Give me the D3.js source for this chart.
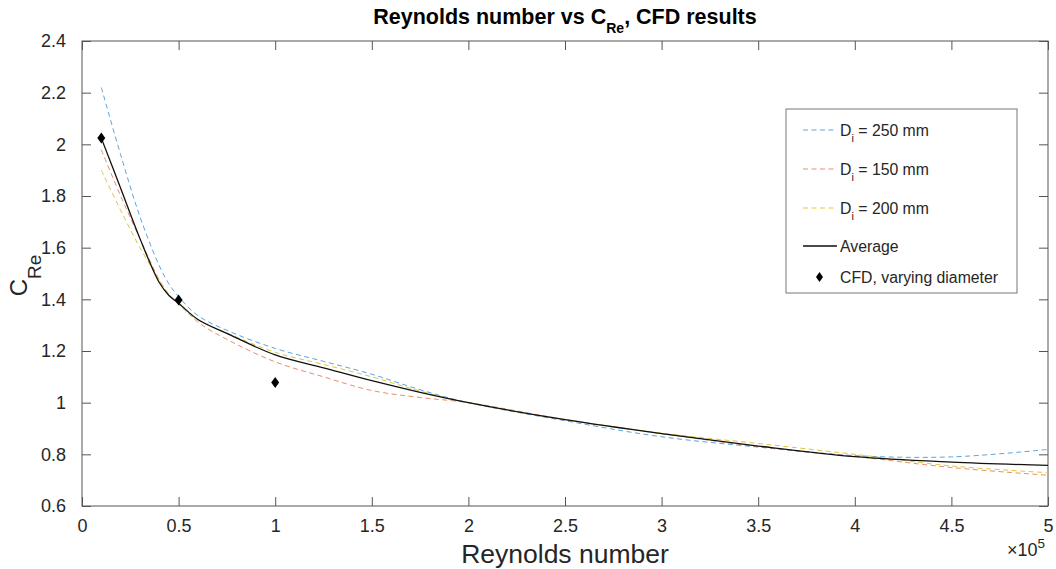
<!DOCTYPE html>
<html>
<head>
<meta charset="utf-8">
<script src="https://cdn.jsdelivr.net/npm/d3@7"></script>
<style>
  html, body { margin: 0; padding: 0; background: #fff; }
  svg { display: block; font-family: "Liberation Sans", Arial, Helvetica, sans-serif; }
</style>
</head>
<body>
<svg id="chart" width="1056" height="569"></svg>
<script>
// Reynolds number samples (in units of 1e5)
const reynolds = [0.1, 0.2, 0.3, 0.4, 0.45, 0.5, 0.6, 0.75, 1.0, 1.25, 1.5, 1.75, 2.0, 2.5, 3.0, 3.5, 4.0, 4.5, 5.0];

// C_Re for each inner diameter
const d250 = [2.22, 1.96, 1.72, 1.53, 1.46, 1.41, 1.337, 1.28, 1.21, 1.16, 1.11, 1.05, 1.0, 0.93, 0.868, 0.828, 0.795, 0.79, 0.819];
const d150 = [1.979, 1.80, 1.635, 1.475, 1.418, 1.385, 1.312, 1.245, 1.158, 1.10, 1.047, 1.02, 1.0, 0.935, 0.88, 0.83, 0.792, 0.749, 0.719];
const d200 = [1.90, 1.745, 1.60, 1.475, 1.42, 1.38, 1.32, 1.27, 1.195, 1.148, 1.10, 1.045, 1.0, 0.935, 0.882, 0.842, 0.80, 0.755, 0.729];
const average = [2.024, 1.83, 1.635, 1.465, 1.415, 1.385, 1.322, 1.268, 1.185, 1.135, 1.085, 1.04, 1.0, 0.934, 0.88, 0.832, 0.791, 0.77, 0.757];

// CFD runs with varying diameter
const cfdRe = [0.1, 0.5, 1.0];
const cfdC = [2.025, 1.397, 1.078];

// Axis ticks
const xTicks = [0, 0.5, 1, 1.5, 2, 2.5, 3, 3.5, 4, 4.5, 5];
const yTicks = [0.6, 0.8, 1, 1.2, 1.4, 1.6, 1.8, 2, 2.2, 2.4];

const svg = d3.select("#chart");
const L = 82, R = 1048, T = 41, B = 506;

const x = d3.scaleLinear().domain([0, 5]).range([L, R]);
const y = d3.scaleLinear().domain([0.6, 2.4]).range([B, T]);

const axisColor = "#555";
const textColor = "#262626";

// Frame
svg.append("rect")
  .attr("x", L).attr("y", T).attr("width", R - L).attr("height", B - T)
  .attr("fill", "none").attr("stroke", axisColor).attr("stroke-width", 1);

// Axes with inward ticks, mirrored on top and right
const fmt = d => String(d);
const xAxisB = d3.axisBottom(x).tickValues(xTicks).tickFormat(fmt).tickSizeInner(-9).tickSizeOuter(0).tickPadding(13);
const xAxisT = d3.axisTop(x).tickValues(xTicks).tickFormat("").tickSizeInner(-9).tickSizeOuter(0);
const yAxisL = d3.axisLeft(y).tickValues(yTicks).tickFormat(fmt).tickSizeInner(-9).tickSizeOuter(0).tickPadding(16);
const yAxisR = d3.axisRight(y).tickValues(yTicks).tickFormat("").tickSizeInner(-9).tickSizeOuter(0);

function styleAxis(g) {
  g.select(".domain").remove();
  g.selectAll(".tick line").attr("stroke", axisColor);
  g.selectAll(".tick text").attr("fill", textColor)
    .style("font-size", "18px")
    .style("font-family", "'Liberation Sans', Arial, sans-serif");
}
svg.append("g").attr("transform", `translate(0,${B})`).call(xAxisB).call(styleAxis);
svg.append("g").attr("transform", `translate(0,${T})`).call(xAxisT).call(styleAxis);
svg.append("g").attr("transform", `translate(${L},0)`).call(yAxisL).call(styleAxis);
svg.append("g").attr("transform", `translate(${R},0)`).call(yAxisR).call(styleAxis);

// Exponent marker for the x axis
const expo = svg.append("text").attr("x", 1007).attr("y", 556).attr("fill", textColor)
  .style("font-size", "18px");
expo.append("tspan").text("\u00d710");
expo.append("tspan").attr("dy", -8).style("font-size", "13.5px").text("5");

// Curves
const line = d3.line()
  .x(d => x(d[0]))
  .y(d => y(d[1]))
  .curve(d3.curveCatmullRom.alpha(0.5));

const series = [
  { values: d250, color: "#5aa5e0", dash: "5,3.5", width: 1 },
  { values: d150, color: "#ee8c66", dash: "5,3.5", width: 1 },
  { values: d200, color: "#dac93a", dash: "5,3.5", width: 1 },
  { values: average, color: "#111", dash: null, width: 1.3 }
];

const plot = svg.append("g");
series.forEach(s => {
  plot.append("path")
    .datum(reynolds.map((r, i) => [r, s.values[i]]))
    .attr("d", line)
    .attr("fill", "none")
    .attr("stroke", s.color)
    .attr("stroke-width", s.width)
    .attr("stroke-dasharray", s.dash);
});

// Diamond marker
const diamond = (cx, cy, w, h) => `M${cx},${cy - h}L${cx + w},${cy}L${cx},${cy + h}L${cx - w},${cy}Z`;
plot.selectAll("path.cfd")
  .data(cfdRe.map((r, i) => [r, cfdC[i]]))
  .join("path")
  .attr("class", "cfd")
  .attr("d", d => diamond(x(d[0]), y(d[1]), 4, 5.5))
  .attr("fill", "#000");

// Title
const title = svg.append("text")
  .attr("x", (L + R) / 2).attr("y", 24)
  .attr("text-anchor", "middle")
  .attr("fill", "#000")
  .style("font-size", "21.5px").style("font-weight", "bold");
title.append("tspan").text("Reynolds number vs C");
title.append("tspan").attr("dy", 9).style("font-size", "14px").text("Re");
title.append("tspan").attr("dy", -9).text(", CFD results");

// Axis labels
svg.append("text")
  .attr("x", (L + R) / 2).attr("y", 563)
  .attr("text-anchor", "middle").attr("fill", textColor)
  .style("font-size", "26.5px")
  .text("Reynolds number");

const ylab = svg.append("text")
  .attr("transform", `translate(27,${(T + B) / 2 + 2}) rotate(-90)`)
  .attr("text-anchor", "middle").attr("fill", textColor)
  .style("font-size", "24px");
ylab.append("tspan").text("C");
ylab.append("tspan").attr("dy", 14).style("font-size", "19px").text("Re");

// Legend
const lg = svg.append("g");
lg.append("rect")
  .attr("x", 786).attr("y", 109).attr("width", 231).attr("height", 184)
  .attr("fill", "#fff").attr("stroke", "#777").attr("stroke-width", 1);

const legendItems = [
  { label: ["D", "i", " = 250 mm"], color: "#5aa5e0", dash: "5,3.5", y: 130 },
  { label: ["D", "i", " = 150 mm"], color: "#ee8c66", dash: "5,3.5", y: 169 },
  { label: ["D", "i", " = 200 mm"], color: "#dac93a", dash: "5,3.5", y: 208 },
  { label: ["Average"], color: "#111", dash: null, y: 246 },
  { label: ["CFD, varying diameter"], marker: true, y: 277 }
];

legendItems.forEach(it => {
  if (it.marker) {
    lg.append("path").attr("d", diamond(819.5, it.y, 3.5, 5)).attr("fill", "#000");
  } else {
    lg.append("line")
      .attr("x1", 803).attr("x2", 837).attr("y1", it.y).attr("y2", it.y)
      .attr("stroke", it.color).attr("stroke-width", it.dash ? 1 : 1.3)
      .attr("stroke-dasharray", it.dash);
  }
  const t = lg.append("text").attr("x", 840).attr("y", it.y + 5.5)
    .attr("fill", textColor).style("font-size", "15.8px");
  if (it.label.length === 3) {
    t.append("tspan").text(it.label[0]);
    t.append("tspan").attr("dy", 6).style("font-size", "11px").text(it.label[1]);
    t.append("tspan").attr("dy", -6).text(it.label[2]);
  } else {
    t.text(it.label[0]);
  }
});
</script>
</body>
</html>
